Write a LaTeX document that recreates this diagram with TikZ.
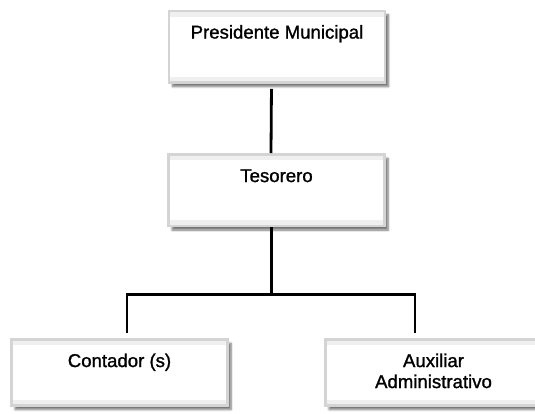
\documentclass[tikz,border=0pt]{standalone}
\usepackage{fontspec}
\setmainfont{Liberation Sans}[FakeBold=1.2]
\usepackage{xcolor}
\usetikzlibrary{shadows.blur}
\definecolor{boxline}{HTML}{D4D4D4}
\definecolor{boxband}{HTML}{EFEFEF}
\tikzset{
  orgbox/.style={draw=boxline, line width=2.5pt, fill=white, inner sep=0pt,
    minimum width=216pt, anchor=north, align=center,
    font=\fontsize{18.6}{21}\selectfont, text height=27.8pt, text depth=44pt,
    blur shadow={shadow xshift=3.5pt, shadow yshift=-4pt, shadow blur steps=6, shadow opacity=55},
    path picture={
      \fill[boxband] (path picture bounding box.north west) rectangle ([yshift=-6pt]path picture bounding box.north east);
      \fill[boxband] (path picture bounding box.south west) rectangle ([yshift=6pt]path picture bounding box.south east);
    }},
  link/.style={line width=2.8pt}
}

\begin{document}
\begin{tikzpicture}[x=1pt, y=-1pt]
\useasboundingbox (0,0) rectangle (535,413);
\node (A) at (277,9.5) [orgbox] {Presidente Municipal};
\node (B) at (276.5,153) [orgbox] {Tesorero};
\node (C) at (119.5,338) [orgbox, text depth=38.5pt] {Contador (s)};
\node (D) at (433.5,338) [orgbox, text height=48.8pt, text depth=17.5pt] {Auxiliar\\Administrativo};
\draw [link, shorten <=5pt] ([xshift=-5.5pt]A.south) -- ([xshift=-5.5pt]B.north);
\draw [link] ([xshift=-5pt]B.south) -- ++(0,67) coordinate (bus);
\draw [link, shorten <=5pt, shorten >=5pt] ([xshift=7.5pt]C.north) |- (bus) -| ([xshift=-18.5pt]D.north);
\end{tikzpicture}
\end{document}
